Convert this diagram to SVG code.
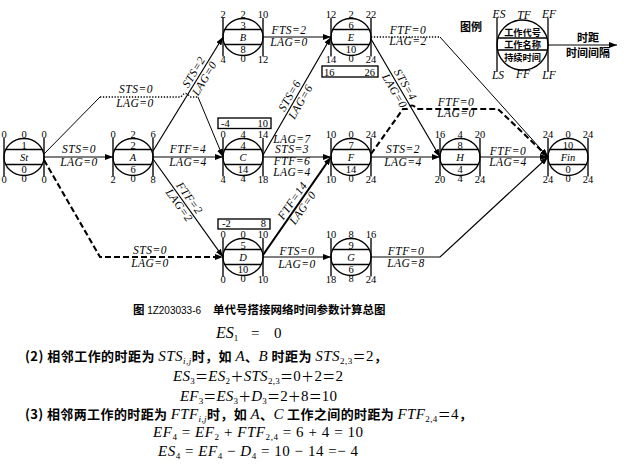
<svg xmlns="http://www.w3.org/2000/svg" xmlns:xlink="http://www.w3.org/1999/xlink" width="624" height="470" viewBox="0 0 624 470">
<style>
.ln{fill:none;stroke:#000;stroke-width:1.2}
.th{fill:none;stroke:#000;stroke-width:1}
.bd{fill:none;stroke:#000;stroke-width:2.1}
.dt{fill:none;stroke:#000;stroke-width:1.3;stroke-dasharray:1.3 1.6}
.ds{fill:none;stroke:#000;stroke-width:2.1;stroke-dasharray:6 3}
.fr ellipse,.fr line,.bx{fill:none;stroke:#000;stroke-width:1.35}
.nd text{font-family:"Liberation Serif",serif;font-size:10.5px;text-anchor:middle;fill:#000}
.nd text.nm{font-style:italic}
.nd text.bl{text-anchor:start}
.nd text.br{text-anchor:end}
.lb{font-family:"Liberation Serif",serif;font-style:italic;font-size:11.5px;letter-spacing:0.5px;text-anchor:middle;fill:#000}
.lg{font-family:"Liberation Serif",serif;font-style:italic;font-size:11.5px;text-anchor:middle;fill:#000}
.lgc{font-family:"Noto Sans CJK SC",sans-serif;font-size:9.2px;font-weight:bold;text-anchor:middle;fill:#000}
.hd{font-family:"Noto Sans CJK SC",sans-serif;font-size:11px;font-weight:bold;fill:#000}
.tx{font-family:"Liberation Serif",serif;font-size:15px;fill:#000}
.cj{font-family:"Noto Sans CJK SC",sans-serif;font-size:13px;font-weight:bold}
.op{font-family:"Noto Sans CJK SC",sans-serif;font-size:13px}
.it{font-style:italic}
.sb{font-size:9px}
.cap{font-family:"Noto Sans CJK SC",sans-serif;font-size:11.5px;font-weight:bold;fill:#000}
.cn{font-family:"Liberation Sans",sans-serif;font-size:10px;font-weight:normal}
</style>
<defs>
<marker id="ar" viewBox="0 0 8 6" refX="8" refY="3" markerWidth="8" markerHeight="6" markerUnits="userSpaceOnUse" orient="auto"><path d="M0,0L8,3L0,6z" fill="#000"/></marker>
<g id="frame" class="fr">
<ellipse cx="0" cy="0" rx="20" ry="18.5"/>
<line x1="-18.3" y1="-7.5" x2="18.3" y2="-7.5"/>
<line x1="-18.3" y1="7.5" x2="18.3" y2="7.5"/>
<line x1="-20" y1="-19" x2="-20" y2="19.5"/>
<line x1="20" y1="-19" x2="20" y2="19.5"/>
</g>
</defs>
<rect width="624" height="470" fill="#fff"/>

<g id="connectors">
<path class="ln" d="M44,157H113" marker-end="url(#ar)"/>
<path class="th" d="M44,154L100,97"/>
<path class="dt" d="M100,97H181Q185.5,90 190,97H198"/>
<path class="th" d="M198,97L223,157" marker-end="url(#ar)"/>
<path class="ln" d="M153,151L223,37" marker-end="url(#ar)"/>
<path class="ln" d="M153,157H223" marker-end="url(#ar)"/>
<path class="ln" d="M153,159L223,257" marker-end="url(#ar)"/>
<path class="ds" d="M44,160L100,257H223" marker-end="url(#ar)"/>
<path class="ln" d="M263,37H331" marker-end="url(#ar)"/>
<path class="ln" d="M263,155L331,37" marker-end="url(#ar)"/>
<path class="ln" d="M263,157H331" marker-end="url(#ar)"/>
<path class="bd" d="M263,255L331,157" marker-end="url(#ar)"/>
<path class="ln" d="M263,257H331" marker-end="url(#ar)"/>
<path class="ln" d="M371,39L440,157" marker-end="url(#ar)"/>
<path class="dt" d="M371,37H440"/>
<path class="th" d="M440,37L548,157" marker-end="url(#ar)"/>
<path class="ln" d="M371,157H440" marker-end="url(#ar)"/>
<path class="ds" d="M371,154L403,109H407Q412,102 417,109H498L548,157" marker-end="url(#ar)"/>
<path class="ln" d="M480,157H548" marker-end="url(#ar)"/>
<path class="ln" d="M371,257H440L548,157" marker-end="url(#ar)"/>

<text class="lb" x="79" y="153">STS=0</text><text class="lb" x="79" y="165.5">LAG=0</text>
<text class="lb" x="136" y="93">STS=0</text><text class="lb" x="135" y="107">LAG=0</text>
<text class="lb" x="188" y="153">FTF=4</text><text class="lb" x="188" y="165.5">LAG=4</text>
<text class="lb" x="150" y="254">STS=0</text><text class="lb" x="150" y="267">LAG=0</text>
<text class="lb" x="289" y="33.5">FTS=2</text><text class="lb" x="289" y="45.5">LAG=0</text>
<text class="lb" x="292" y="142.5">LAG=7</text><text class="lb" x="292" y="153">STS=3</text>
<text class="lb" x="292" y="164.5">FTF=6</text><text class="lb" x="292" y="175.5">LAG=4</text>
<text class="lb" x="297" y="255">FTS=0</text><text class="lb" x="297" y="268">LAG=0</text>
<text class="lb" x="403" y="153">STS=2</text><text class="lb" x="403" y="166">LAG=4</text>
<text class="lb" x="508" y="154.5">FTF=0</text><text class="lb" x="508" y="165.5">LAG=4</text>
<text class="lb" x="406" y="255">FTF=0</text><text class="lb" x="406" y="266.5">LAG=8</text>
<text class="lb" x="408" y="33.5">FTF=0</text><text class="lb" x="408" y="45">LAG=2</text>
<text class="lb" x="456" y="105.5">FTF=0</text><text class="lb" x="456" y="117">LAG=0</text>
<g transform="translate(199.5,75.5) rotate(-59.3)"><text class="lb" x="0" y="-3">STS=2</text><text class="lb" x="0" y="9.5">LAG=0</text></g>
<g transform="translate(295.5,99) rotate(-60.5)"><text class="lb" x="0" y="-3">STS=6</text><text class="lb" x="0" y="9.5">LAG=6</text></g>
<g transform="translate(184,202) rotate(54.5)"><text class="lb" x="0" y="-3">FTF=2</text><text class="lb" x="0" y="9.5">LAG=2</text></g>
<g transform="translate(298,204.6) rotate(-55.2)"><text class="lb" x="0" y="-3">FTF=14</text><text class="lb" x="0" y="9.5">LAG=0</text></g>
<g transform="translate(399.5,88) rotate(59.7)"><text class="lb" x="0" y="-3">STS=4</text><text class="lb" x="0" y="9.5">LAG=0</text></g>
</g>

<g id="node-St" class="nd" transform="translate(24,157)">
<use xlink:href="#frame"/>
<text y="-8.5">1</text><text class="nm" y="3.8">St</text><text y="15.5">0</text>
<text x="-20" y="-19.5">0</text><text y="-19.5">0</text><text x="20" y="-19.5">0</text>
<text x="-20" y="25.5">0</text><text y="25">0</text><text x="20" y="25.5">0</text>
</g>
<g id="node-A" class="nd" transform="translate(133,157)">
<use xlink:href="#frame"/>
<text y="-8.5">2</text><text class="nm" y="3.8">A</text><text y="15.5">6</text>
<text x="-20" y="-19.5">0</text><text y="-19.5">2</text><text x="20" y="-19.5">6</text>
<text x="-20" y="25.5">2</text><text y="25">0</text><text x="20" y="25.5">8</text>
</g>
<g id="node-B" class="nd" transform="translate(243,37)">
<use xlink:href="#frame"/>
<text y="-8.5">3</text><text class="nm" y="3.8">B</text><text y="15.5">8</text>
<text x="-20" y="-19.5">2</text><text y="-19.5">2</text><text x="20" y="-19.5">10</text>
<text x="-20" y="25.5">4</text><text y="25">0</text><text x="20" y="25.5">12</text>
</g>
<g id="node-C" class="nd" transform="translate(243,157)">
<rect class="bx" x="-25" y="-39" width="53" height="10.5"/>
<text class="bl" x="-22" y="-30.5">-4</text><text class="br" x="25" y="-30.5">10</text>
<use xlink:href="#frame"/>
<text y="-8.5">4</text><text class="nm" y="3.8">C</text><text y="15.5">14</text>
<text x="-20" y="-19.5">0</text><text y="-19.5">4</text><text x="20" y="-19.5">14</text>
<text x="-20" y="25.5">4</text><text y="25">4</text><text x="20" y="25.5">18</text>
</g>
<g id="node-D" class="nd" transform="translate(243,257)">
<rect class="bx" x="-25" y="-38" width="52" height="10"/>
<text class="bl" x="-21" y="-30">-2</text><text class="br" x="23" y="-30">8</text>
<use xlink:href="#frame"/>
<text y="-8.5">5</text><text class="nm" y="3.8">D</text><text y="15.5">10</text>
<text x="-20" y="-19.5">0</text><text y="-19.5">0</text><text x="20" y="-19.5">10</text>
<text x="-20" y="25.5">0</text><text y="25">0</text><text x="20" y="25.5">10</text>
</g>
<g id="node-E" class="nd" transform="translate(351,37)">
<rect class="bx" x="-29" y="29" width="56" height="11"/>
<text class="bl" x="-27" y="38.5">16</text><text class="br" x="24" y="38.5">26</text>
<use xlink:href="#frame"/>
<text y="-8.5">6</text><text class="nm" y="3.8">E</text><text y="15.5">10</text>
<text x="-20" y="-19.5">12</text><text y="-19.5">2</text><text x="20" y="-19.5">22</text>
<text x="-20" y="25.5">14</text><text y="25">0</text><text x="20" y="25.5">24</text>
</g>
<g id="node-F" class="nd" transform="translate(351,157)">
<use xlink:href="#frame"/>
<text y="-8.5">7</text><text class="nm" y="3.8">F</text><text y="15.5">14</text>
<text x="-20" y="-19.5">10</text><text y="-19.5">0</text><text x="20" y="-19.5">24</text>
<text x="-20" y="25.5">10</text><text y="25">0</text><text x="20" y="25.5">24</text>
</g>
<g id="node-G" class="nd" transform="translate(351,257)">
<use xlink:href="#frame"/>
<text y="-8.5">9</text><text class="nm" y="3.8">G</text><text y="15.5">6</text>
<text x="-20" y="-19.5">10</text><text y="-19.5">8</text><text x="20" y="-19.5">16</text>
<text x="-20" y="25.5">18</text><text y="25">8</text><text x="20" y="25.5">24</text>
</g>
<g id="node-H" class="nd" transform="translate(460,157)">
<use xlink:href="#frame"/>
<text y="-8.5">8</text><text class="nm" y="3.8">H</text><text y="15.5">4</text>
<text x="-20" y="-19.5">16</text><text y="-19.5">4</text><text x="20" y="-19.5">20</text>
<text x="-20" y="25.5">20</text><text y="25">4</text><text x="20" y="25.5">24</text>
</g>
<g id="node-Fin" class="nd" transform="translate(568,157)">
<use xlink:href="#frame"/>
<text y="-8.5">10</text><text class="nm" y="3.8">Fin</text><text y="15.5">0</text>
<text x="-20" y="-19.5">24</text><text y="-19.5">0</text><text x="20" y="-19.5">24</text>
<text x="-20" y="25.5">24</text><text y="25">0</text><text x="20" y="25.5">24</text>
</g>

<g id="legend">
<text class="hd" x="460" y="31">图例</text>
<ellipse cx="522.5" cy="45" rx="25.5" ry="25" fill="none" stroke="#000" stroke-width="1.35"/>
<line x1="498" y1="38" x2="547" y2="38" stroke="#000" stroke-width="1.3"/>
<line x1="497.5" y1="50" x2="547.5" y2="50" stroke="#000" stroke-width="1.3"/>
<line x1="497" y1="18" x2="497" y2="72" stroke="#000" stroke-width="1.3"/>
<line x1="548" y1="18" x2="548" y2="72" stroke="#000" stroke-width="1.3"/>
<text class="lgc" x="522.5" y="36">工作代号</text>
<text class="lgc" x="522.5" y="48.3">工作名称</text>
<text class="lgc" x="522.5" y="60.5">持续时间</text>
<text class="lg" x="499" y="18">ES</text><text class="lg" x="524" y="19">TF</text><text class="lg" x="549" y="18">EF</text>
<text class="lg" x="498" y="79">LS</text><text class="lg" x="523" y="78">FF</text><text class="lg" x="549" y="79">LF</text>
<path class="ln" d="M548,45H617" marker-end="url(#ar)"/>
<text class="hd" x="588" y="42" text-anchor="middle">时距</text>
<text class="hd" x="588" y="56.5" text-anchor="middle">时间间隔</text>
</g>

<g id="text">
<text class="cap" x="133" y="314">图 <tspan class="cn">1Z203033-6</tspan><tspan x="213">单代号搭接网络时间参数计算总图</tspan></text>
<text class="tx" x="216" y="338"><tspan class="it" style="font-size:16px">ES</tspan><tspan class="sb" dy="3">1</tspan><tspan dy="-3" x="251">=</tspan><tspan x="274">0</tspan></text>
<text class="tx" x="25" y="361" textLength="362" lengthAdjust="spacing"><tspan class="cj">(2) 相邻工作的时距为 </tspan><tspan class="it">STS</tspan><tspan class="sb it" dy="3">i,j</tspan><tspan class="cj" dy="-3">时，如 </tspan><tspan class="it">A</tspan><tspan class="cj">、</tspan><tspan class="it">B</tspan><tspan class="cj"> 时距为 </tspan><tspan class="it">STS</tspan><tspan class="sb" dy="3">2,3</tspan><tspan class="op" dy="-3">＝</tspan>2<tspan class="cj">，</tspan></text>
<text class="tx" x="173" y="381" textLength="170" lengthAdjust="spacing"><tspan class="it">ES</tspan><tspan class="sb" dy="3">3</tspan><tspan class="op" dy="-3">＝</tspan><tspan class="it">ES</tspan><tspan class="sb" dy="3">2</tspan><tspan class="op" dy="-3">＋</tspan><tspan class="it">STS</tspan><tspan class="sb" dy="3">2,3</tspan><tspan class="op" dy="-3">＝</tspan>0<tspan class="op">＋</tspan>2<tspan class="op">＝</tspan>2</text>
<text class="tx" x="180" y="401" textLength="157" lengthAdjust="spacing"><tspan class="it">EF</tspan><tspan class="sb" dy="2.5">3</tspan><tspan class="op" dy="-2.5">＝</tspan><tspan class="it">ES</tspan><tspan class="sb" dy="2.5">3</tspan><tspan class="op" dy="-2.5">＋</tspan><tspan class="it">D</tspan><tspan class="sb" dy="2.5">3</tspan><tspan class="op" dy="-2.5">＝</tspan>2<tspan class="op">＋</tspan>8<tspan class="op">＝</tspan>10</text>
<text class="tx" x="25" y="419" textLength="447" lengthAdjust="spacing"><tspan class="cj">(3) 相邻两工作的时距为 </tspan><tspan class="it">FTF</tspan><tspan class="sb it" dy="3">i,j</tspan><tspan class="cj" dy="-3">时，如 </tspan><tspan class="it">A</tspan><tspan class="cj">、</tspan><tspan class="it">C</tspan><tspan class="cj"> 工作之间的时距为 </tspan><tspan class="it">FTF</tspan><tspan class="sb" dy="3">2,4</tspan><tspan class="op" dy="-3">＝</tspan>4<tspan class="cj">，</tspan></text>
<text class="tx" x="153" y="437" textLength="210" lengthAdjust="spacing"><tspan class="it">EF</tspan><tspan class="sb" dy="3">4</tspan><tspan dy="-3"> = </tspan><tspan class="it">EF</tspan><tspan class="sb" dy="3">2</tspan><tspan dy="-3"> + </tspan><tspan class="it">FTF</tspan><tspan class="sb" dy="3">2,4</tspan><tspan dy="-3"> = 6 + 4 = 10</tspan></text>
<text class="tx" x="158" y="456" textLength="200" lengthAdjust="spacing"><tspan class="it">ES</tspan><tspan class="sb" dy="3">4</tspan><tspan dy="-3"> = </tspan><tspan class="it">EF</tspan><tspan class="sb" dy="3">4</tspan><tspan dy="-3"> − </tspan><tspan class="it">D</tspan><tspan class="sb" dy="3">4</tspan><tspan dy="-3"> = 10 − 14 =− 4</tspan></text>
</g>
</svg>
